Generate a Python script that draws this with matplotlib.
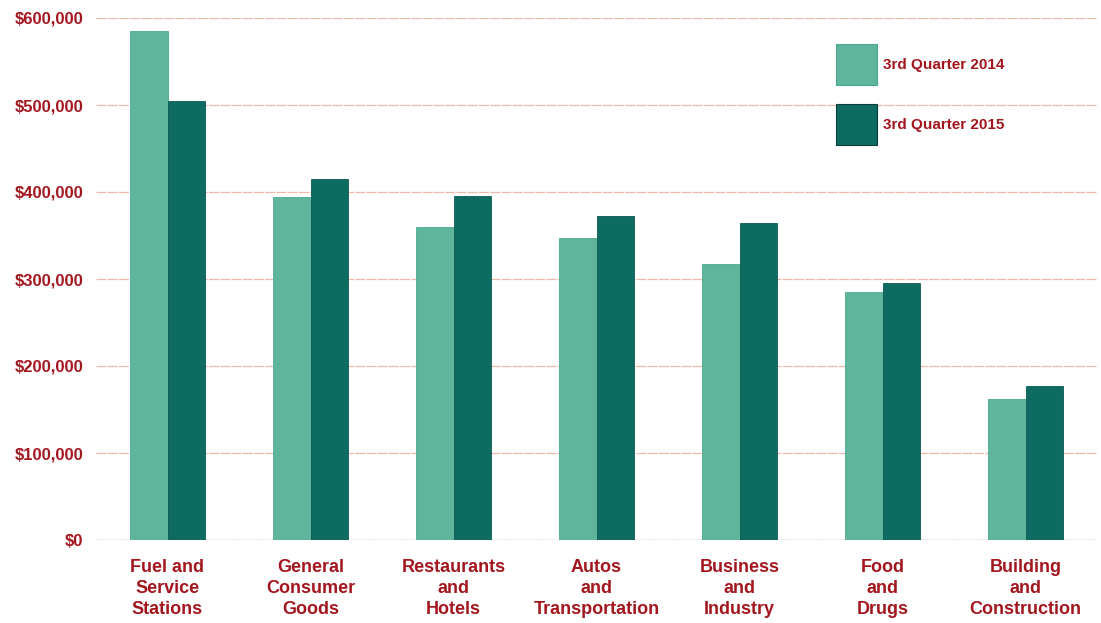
import matplotlib.pyplot as plt
import numpy as np
from matplotlib.patches import Rectangle

categories = ["Fuel and\nService\nStations", "General\nConsumer\nGoods", "Restaurants\nand\nHotels",
              "Autos\nand\nTransportation", "Business\nand\nIndustry", "Food\nand\nDrugs",
              "Building\nand\nConstruction"]
q3_2014 = [585000, 394000, 360000, 347000, 317000, 285000, 162000]
q3_2015 = [505000, 415000, 395000, 372000, 364000, 295000, 177000]
labels = ["3rd Quarter 2014", "3rd Quarter 2015"]
yticks = [0, 100000, 200000, 300000, 400000, 500000, 600000]

light = "#5fb49c"
dark = "#0d6b62"
red = "#a3161e"

plt.rcParams['font.family'] = ['Liberation Sans Narrow', 'Liberation Sans', 'DejaVu Sans']

fig = plt.figure(figsize=(11.01, 6.23), dpi=100)
ax = fig.add_axes([96 / 1101, 83 / 623, 1001 / 1101, 522 / 623])

x = np.arange(len(categories))
w = 0.26
ax.bar(x - w / 2, q3_2014, w, color=light, edgecolor="#4aa88f", linewidth=0.6, zorder=3)
ax.bar(x + w / 2, q3_2015, w, color=dark, edgecolor="#0a5a52", linewidth=0.6, zorder=3)

ax.set_xlim(-0.5, 6.5)
ax.set_ylim(0, 600000)
ax.set_yticks(yticks)
ax.set_yticklabels(["${:,}".format(v) for v in yticks], fontsize=12, fontweight='bold', color=red)
ax.set_xticks(x)
ax.set_xticklabels(categories, fontsize=13, fontweight='bold', color=red, linespacing=1.3)
ax.tick_params(axis='both', length=0)
ax.tick_params(axis='x', pad=14)
ax.tick_params(axis='y', pad=9)
ax.grid(axis='y', color="#eeb8aa", linewidth=0.9, linestyle=(0, (8, 1)), zorder=0)
for s in ax.spines.values():
    s.set_visible(False)
ax.axhline(0, color="#cccccc", linewidth=1.0, zorder=2)

# legend drawn by hand, squares and labels in figure pixels
sq = [(836, 44), (836, 104)]
for (px, py), col, ec, lab in zip(sq, [light, dark], ["#4aa88f", "#0a3f3a"], labels):
    fig.patches.append(Rectangle((px / 1101, 1 - (py + 41) / 623), 41 / 1101, 41 / 623,
                                 transform=fig.transFigure, facecolor=col, edgecolor=ec, linewidth=0.8))
    fig.text((px + 47) / 1101, 1 - (py + 21) / 623, lab, fontsize=11, fontweight='bold',
             color=red, va='center', ha='left')

fig.savefig("out.png", dpi=100)
